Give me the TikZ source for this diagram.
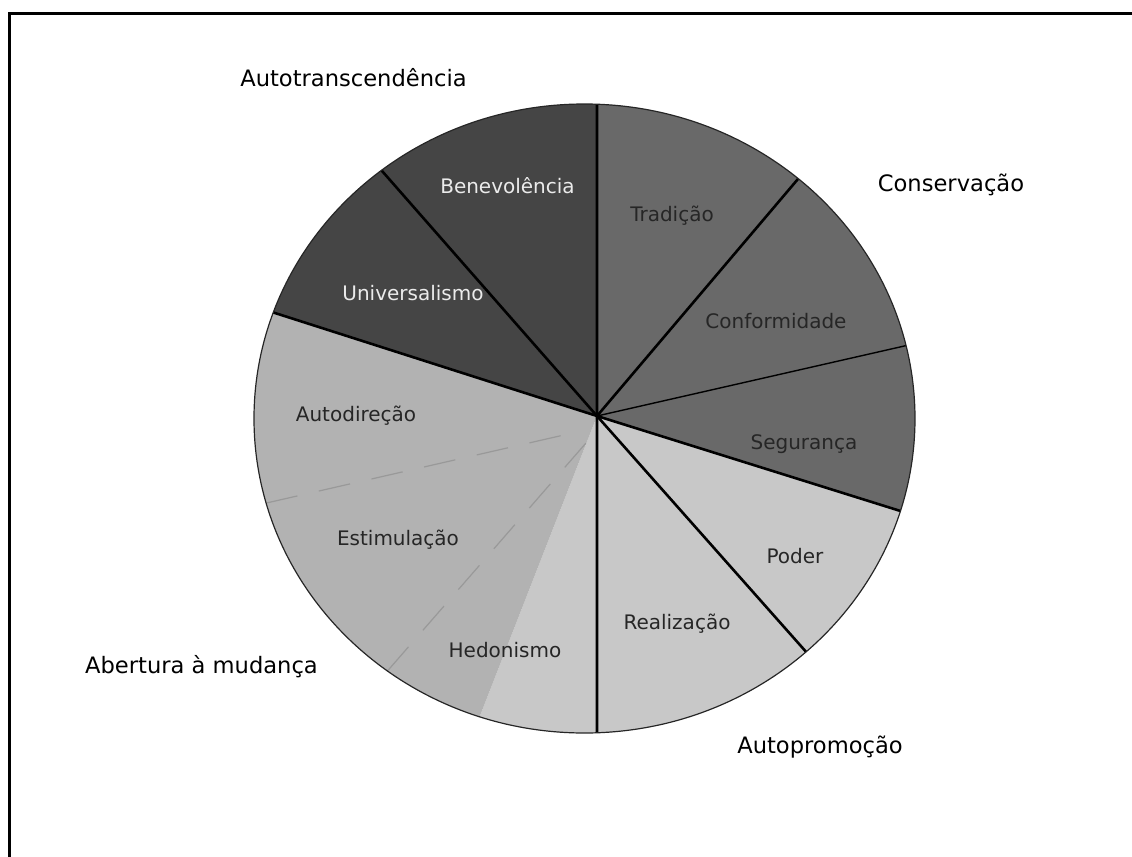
\documentclass[tikz,border=0pt]{standalone}
\usepackage{fontspec}
\setmainfont{DejaVu Sans}
\usetikzlibrary{calc}

\definecolor{darkslice}{gray}{0.27}
\definecolor{midslice}{gray}{0.41}
\definecolor{lightslice}{gray}{0.785}
\definecolor{openslice}{gray}{0.70}

\begin{document}
\begin{tikzpicture}[
    x=0.5pt,
    y=0.5pt,
    rim/.style={
        x radius=165.25pt,
        y radius=157.25pt
    },
    divider/.style={
        line width=1.3pt,
        black
    },
    thindivider/.style={
        line width=0.7pt,
        black
    },
    softdivider/.style={
        gray!80,
        line width=0.6pt,
        dash pattern=on 16pt off 11pt
    },
    group/.style={
        font=\fontsize{11.3}{13}\selectfont,
        text=black,
        anchor=base
    },
    value/.style={
        font=\fontsize{10}{12}\selectfont,
        text=black!85,
        anchor=base
    }
]

\useasboundingbox (0,0) rectangle (1132,-857);

% frame
\draw[line width=1.5pt] (9.5,-857) -- (9.5,-13.5) -- (1132,-13.5);

%---------------------------------------------------------------------
% Rim points
%---------------------------------------------------------------------

\coordinate (c) at (584.5,-418.5);
\coordinate (hub) at (597,-416);

\coordinate (pTop) at ($(c)+(87.83:165.25pt and 157.25pt)$);
\coordinate (pTra) at ($(c)+(49.7:165.25pt and 157.25pt)$);
\coordinate (pCon) at ($(c)+(13.4:165.25pt and 157.25pt)$);
\coordinate (pSeg) at ($(c)+(-17.1:165.25pt and 157.25pt)$);
\coordinate (pPod) at ($(c)+(-47.9:165.25pt and 157.25pt)$);
\coordinate (pBot) at ($(c)+(-87.83:165.25pt and 157.25pt)$);
\coordinate (pHed) at ($(c)+(251.5:165.25pt and 157.25pt)$);
\coordinate (pEst) at ($(c)+(233.4:165.25pt and 157.25pt)$);
\coordinate (pAud) at ($(c)+(195.6:165.25pt and 157.25pt)$);
\coordinate (pUni) at ($(c)+(160.3:165.25pt and 157.25pt)$);
\coordinate (pBen) at ($(c)+(127.9:165.25pt and 157.25pt)$);

%---------------------------------------------------------------------
% Wedges
%---------------------------------------------------------------------

\fill[midslice] (hub) -- (pTop) arc[rim, start angle=87.83, end angle=-17.1] -- cycle;
\fill[lightslice] (hub) -- (pSeg) arc[rim, start angle=-17.1, end angle=-108.5] -- cycle;
\fill[openslice] (hub) -- (pHed) arc[rim, start angle=251.5, end angle=160.3] -- cycle;
\fill[darkslice] (hub) -- (pUni) arc[rim, start angle=160.3, end angle=87.83] -- cycle;

% dashed splits
\draw[softdivider] (pEst) -- (586,-443);
\draw[softdivider] (pAud) -- (577,-432);

% solid splits
\draw[divider] (hub) -- (pTop);
\draw[divider] (hub) -- (pTra);
\draw[thindivider] (hub) -- (pCon);
\draw[divider] (hub) -- (pSeg);
\draw[divider] (hub) -- (pPod);
\draw[divider] (hub) -- (pBot);
\draw[divider] (hub) -- (pUni);
\draw[divider] (hub) -- (pBen);

% rim
\draw[black!85, line width=0.6pt] (c) ellipse[rim];

%---------------------------------------------------------------------
% Slice labels
%---------------------------------------------------------------------

\node[value, text=white!92!black] (ben) at (507.5,-193) {Benevolência};
\node[value, text=white!92!black] (uni) at (413,-300) {Universalismo};
\node[value] (tra) at (672,-221) {Tradição};
\node[value] (con) at (776,-328) {Conformidade};
\node[value] (seg) at (804,-449) {Segurança};
\node[value] (pod) at (795,-563) {Poder};
\node[value] (rea) at (677,-629) {Realização};
\node[value] (hed) at (505,-657) {Hedonismo};
\node[value] (est) at (398,-545) {Estimulação};
\node[value] (aud) at (356,-421) {Autodireção};

%---------------------------------------------------------------------
% Group labels
%---------------------------------------------------------------------

\node[group] (gTrans) at (353.5,-86) {Autotranscendência};
\node[group] (gCons) at (951,-191) {Conservação};
\node[group] (gProm) at (820,-753) {Autopromoção};
\node[group] (gAber) at (201.5,-673) {Abertura à mudança};

\end{tikzpicture}
\end{document}
